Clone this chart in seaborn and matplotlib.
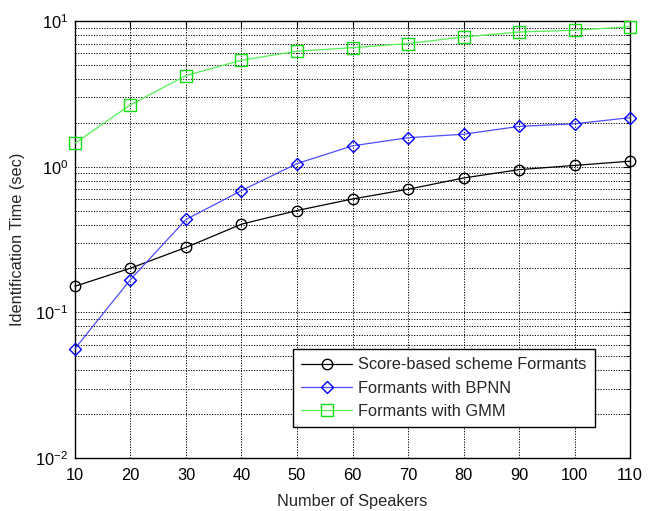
import numpy as np
import pandas as pd
import seaborn as sns
import matplotlib
matplotlib.use("Agg")
import matplotlib.pyplot as plt
from matplotlib.ticker import LogLocator, FixedLocator

speakers = [10, 20, 30, 40, 50, 60, 70, 80, 90, 100, 110]
score_based = [0.151, 0.201, 0.279, 0.403, 0.50, 0.60, 0.70, 0.836, 0.954, 1.02, 1.09]
bpnn = [0.0564, 0.168, 0.434, 0.685, 1.05, 1.39, 1.58, 1.67, 1.89, 1.97, 2.17]
gmm = [1.45, 2.66, 4.22, 5.38, 6.2, 6.56, 7.0, 7.77, 8.4, 8.64, 9.14]

series_names = ["Score-based scheme Formants", "Formants with BPNN", "Formants with GMM"]
series_values = [score_based, bpnn, gmm]
line_colors = ["#000000", "#4d4dff", "#55f055"]
marker_colors = ["#000000", "#0000ff", "#11dd11"]
markers = ["o", "D", "s"]
msizes = [7.5, 6.5, 8]

sns.set_theme(style="white")
plt.rcParams["font.family"] = ["Liberation Sans", "DejaVu Sans"]
plt.rcParams["mathtext.fontset"] = "custom"
plt.rcParams["mathtext.rm"] = "Liberation Sans"
plt.rcParams["mathtext.it"] = "Liberation Sans"
plt.rcParams["axes.unicode_minus"] = False

fig = plt.figure(figsize=(6.56, 5.11), dpi=100)
ax = fig.add_axes([0.1143, 0.1037, 0.9604 - 0.1143, 0.9589 - 0.1037])

for name, vals, lc, mc, m, ms in zip(series_names, series_values, line_colors,
                                     marker_colors, markers, msizes):
    df = pd.DataFrame({"Speakers": speakers, "Time": vals})
    sns.lineplot(data=df, x="Speakers", y="Time", ax=ax, color=lc, marker=m,
                 markersize=ms, markerfacecolor="none", markeredgecolor=mc,
                 markeredgewidth=1.0, linewidth=0.9, label=name, clip_on=False,
                 zorder=3)

ax.set_yscale("log")
ax.set_xlim(10, 110)
ax.set_ylim(1e-2, 1e1)
ax.xaxis.set_major_locator(FixedLocator(speakers))
ax.yaxis.set_major_locator(LogLocator(base=10, numticks=10))
ax.yaxis.set_minor_locator(LogLocator(base=10, subs=np.arange(2, 10), numticks=20))

ax.grid(True, which="major", axis="both", linestyle=(0, (1.2, 1.5)), color="black", linewidth=0.7)
ax.grid(True, which="minor", axis="y", linestyle=(0, (1.2, 1.5)), color="black", linewidth=0.7)

for side in ["top", "bottom", "left", "right"]:
    ax.spines[side].set_visible(True)
    ax.spines[side].set_color("black")
    ax.spines[side].set_linewidth(1.0)

ax.tick_params(axis="both", which="both", direction="in", top=True, right=True,
               colors="black", labelsize=11.8)
ax.tick_params(axis="both", which="major", length=5, width=0.8)
ax.tick_params(axis="y", which="minor", length=3, width=0.6)
ax.tick_params(axis="x", which="major", pad=7)
ax.tick_params(axis="y", which="major", pad=5)

ax.set_xlabel("Number of Speakers", fontsize=11.8, labelpad=8)
ax.set_ylabel("Identification Time (sec)", fontsize=11.8, labelpad=7)

leg = ax.legend(loc="lower right", bbox_to_anchor=(0.937, 0.071), fontsize=11.8,
                handlelength=3.1, frameon=True, fancybox=False, framealpha=1,
                edgecolor="black", borderpad=0.5, labelspacing=0.5,
                handletextpad=0.4, borderaxespad=0)
leg.get_frame().set_linewidth(1.0)

fig.savefig("out.png", dpi=100, facecolor="white")
